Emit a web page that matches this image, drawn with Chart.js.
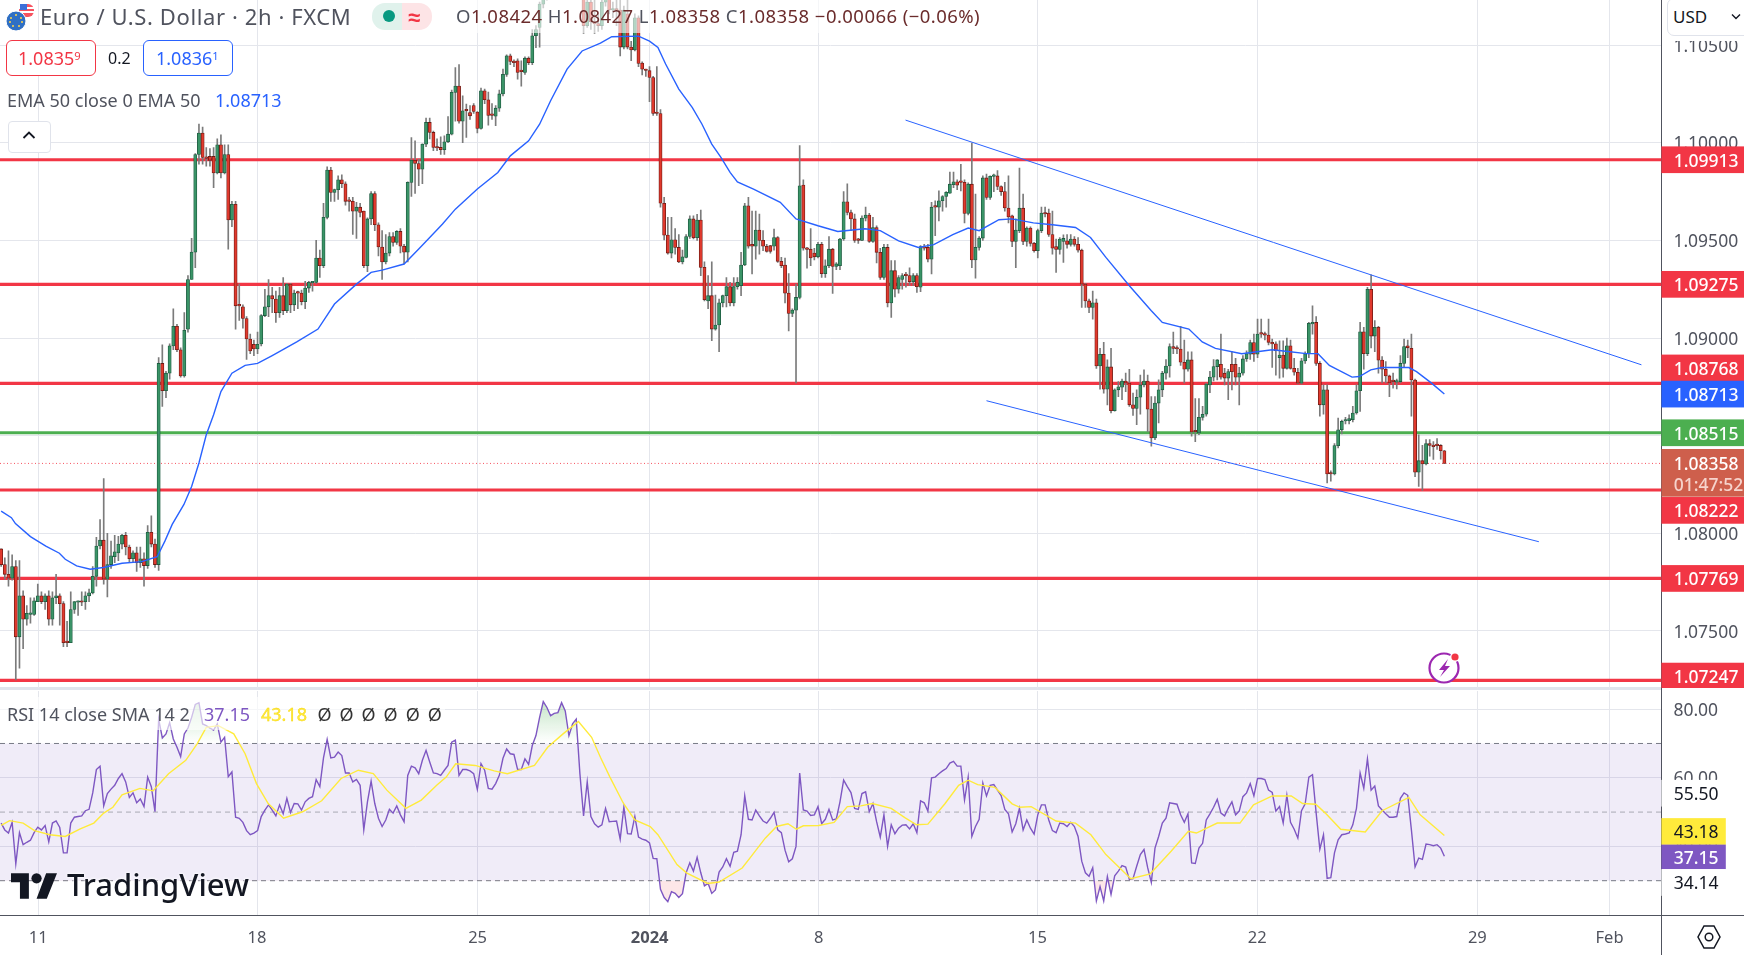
<!DOCTYPE html>
<html><head><meta charset="utf-8">
<script src="https://cdn.jsdelivr.net/npm/chart.js@4"></script>
<style>
html,body{margin:0;padding:0;background:#fff;overflow:hidden}
#stage{position:relative;width:1744px;height:955px;overflow:hidden;background:#fff;font-family:"Noto Sans",sans-serif;color:#50535e}
canvas{position:absolute;left:0}
.a{position:absolute;white-space:nowrap;line-height:1}
sup{font-size:.62em;vertical-align:baseline;position:relative;top:-.42em}
</style></head><body><div id="stage">
<div class="a" style="left:1661px;top:0;width:1px;height:955px;background:#50535e"></div>
<div class="a" style="left:0;top:915px;width:1744px;height:1px;background:#50535e"></div>
<div class="a" style="left:0;top:687px;width:1661px;height:3px;background:#e0e3eb"></div>
<canvas id="priceCanvas" width="1744" height="688" style="top:0"></canvas>
<canvas id="rsiCanvas" width="1744" height="267" style="top:688px"></canvas>

<div class="a" style="left:450px;top:0;width:535px;height:33px;background:rgba(255,255,255,.62)"></div>
<div class="a" style="left:0;top:697px;width:445px;height:33px;background:rgba(255,255,255,.62)"></div>

<svg class="a" style="left:5px;top:2px" width="32" height="30" viewBox="0 0 32 30">
<rect x="14" y="2" width="15" height="13" rx="6" fill="#f7525f"/><rect x="14" y="5" width="15" height="2" fill="#fff"/><rect x="14" y="9" width="15" height="2" fill="#fff"/><rect x="15" y="2" width="7" height="6" fill="#3d6fd8"/>
<circle cx="11" cy="19" r="10" fill="#2f6fc4" stroke="#fff" stroke-width="1"/><g fill="#ffd54a"><circle cx="11" cy="13" r="1"/><circle cx="16" cy="16" r="1"/><circle cx="17" cy="20" r="1"/><circle cx="14" cy="24" r="1"/><circle cx="8" cy="24" r="1"/><circle cx="5" cy="20" r="1"/><circle cx="6" cy="16" r="1"/></g></svg>
<div class="a" style="left:40px;top:5px;font-size:22px;letter-spacing:.6px;color:#50535e">Euro / U.S. Dollar · 2h · FXCM</div>
<div class="a" style="left:372px;top:3px;width:30px;height:27px;background:#e0f2ec;border-radius:13px 0 0 13px"></div>
<div class="a" style="left:402px;top:3px;width:30px;height:27px;background:#fde4e6;border-radius:0 13px 13px 0"></div>
<div class="a" style="left:383px;top:10px;width:12px;height:12px;border-radius:6px;background:#089981"></div>
<div class="a" style="left:408px;top:5px;font-size:22px;font-weight:700;color:#f23645">≈</div>
<div class="a" id="ohlc" style="left:456px;top:7px;font-size:18.5px;letter-spacing:.45px;color:#50535e">O<span style="color:#6b2c2c">1.08424</span> H<span style="color:#6b2c2c">1.08427</span> L<span style="color:#6b2c2c">1.08358</span> C<span style="color:#6b2c2c">1.08358</span> <span style="color:#6b2c2c">−0.00066 (−0.06%)</span></div>
<div class="a" style="left:6px;top:40px;width:88px;height:34px;border:1px solid #f23645;border-radius:6px;background:#fff"></div>
<div class="a" style="left:18px;top:49px;font-size:18px;color:#f23645">1.0835<sup>9</sup></div>
<div class="a" style="left:108px;top:50px;font-size:16px;color:#131722">0.2</div>
<div class="a" style="left:143px;top:40px;width:88px;height:34px;border:1px solid #2962ff;border-radius:6px;background:#fff"></div>
<div class="a" style="left:156px;top:49px;font-size:18px;color:#2962ff">1.0836<sup>1</sup></div>
<div class="a" style="left:7px;top:91px;font-size:18px;color:#50535e">EMA 50 close 0 EMA 50</div>
<div class="a" style="left:215px;top:91px;font-size:18px;color:#2962ff">1.08713</div>
<div class="a" style="left:8px;top:121px;width:41px;height:30px;border:1px solid #e0e3eb;border-radius:4px;background:#fff"></div>
<svg class="a" style="left:22px;top:130px" width="14" height="10"><path d="M1.5 8 L7 2.5 L12.5 8" fill="none" stroke="#131722" stroke-width="1.8"/></svg>
<svg class="a" style="left:1427px;top:651px" width="36" height="34" viewBox="0 0 36 34"><circle cx="17" cy="17" r="14.5" fill="#fff" stroke="#9c27b0" stroke-width="2.2"/><path d="M21 8 L12 19 L17 19 L13 26 L23 15 L18 15 Z" fill="#9c27b0"/><circle cx="28" cy="6" r="5" fill="#fff"/><circle cx="28" cy="6" r="3.6" fill="#f23645"/></svg>

<div class="a" style="left:7px;top:705px;font-size:18px;color:#50535e">RSI 14 close SMA 14 2</div>
<div class="a" style="left:204px;top:705px;font-size:18px;color:#7e57c2">37.15</div>
<div class="a" style="left:261px;top:705px;font-size:18px;color:#ffeb3b;-webkit-text-stroke:.3px #f3d000">43.18</div>
<div class="a" style="left:317.5px;top:705px;font-size:18px;color:#333;word-spacing:3.3px">Ø Ø Ø Ø Ø Ø</div>

<svg class="a" style="left:11px;top:873px" width="46" height="26" viewBox="0 0 36 20"><path d="M14 20H7V7H0V0h14v20zM28 20h-8L27.5 0h8.5L28 20z" fill="#131722"/><circle cx="20" cy="4" r="4" fill="#131722"/></svg>
<div class="a" style="left:67px;top:869px;font-size:31px;font-weight:500;color:#131722;text-shadow:0 0 3px #fff,0 0 3px #fff">TradingView</div>

<div class="a" style="left:1662px;top:0;width:82px;height:41px;background:#fff"></div>
<div class="a" style="left:1667px;top:-2px;width:90px;height:36px;border:1px solid #e0e3eb;border-radius:7px;background:#fff"></div>
<div class="a" style="left:1673px;top:8px;font-size:17px;color:#131722">USD</div>
<svg class="a" style="left:1731px;top:13px" width="10" height="8"><path d="M1 1.5 L5 5.5 L9 1.5" fill="none" stroke="#131722" stroke-width="1.4"/></svg>
<svg class="a" style="left:1697px;top:923px" width="24" height="28" viewBox="0 0 24 28"><path d="M7 3 H17 L23 14 L17 25 H7 L1 14 Z" fill="none" stroke="#131722" stroke-width="1.5"/><circle cx="12" cy="14" r="3.8" fill="none" stroke="#131722" stroke-width="1.5"/></svg>
</div>
<script>
// Candle values, in pips above 1.0000, one entry per 2h bar.
const opens=[
792,784,779,777,783,747,768,756,758.5,758.5,765,768,765,768,756,767,768,764,744.5,744,
761,764.7,765,765,768,769.5,778,793.5,796.5,776.5,784,788,790,794.5,799,793,787,790,785,787,
783.5,800.5,794.5,784,887,873,882,896,906,894,880.6,904.5,930,944,994,1005,992.5,993,993,984.5,
999,984.5,994,960.5,968.5,917,916,910,899.5,896.8,894.4,897,911.5,916,921.7,920,913,921.7,914,927.6,
917,923.3,923,918.6,925.6,928.3,928.5,941,937,961.8,986,974.6,976,981,979,970.3,970,965,967,965,
937,961,974,958,946.6,939,943.5,952,949,954.6,947,944,979.7,991,989.4,986.5,999.3,1010.4,1005.3,997.6,
997.6,996.4,1000.5,1004.4,1025.8,1029,1011,1016.7,1015.5,1019,1015.7,1007.3,1026.6,1022,1014.3,1013.6,1017.7,1025,1035,1044.5,
1041.6,1042,1036.6,1036,1043.3,1041,1054.8,1059,1071,1075,1080,1083,1088,1092,1096,1100,1105,1110,1112,1085,
1060,1072,1062,1061,1060,1072,1078,1068,1068.5,1068,1049,1066,1049,1047.5,1064,1040.8,1037.5,1036.9,1033.4,1015.3,
1015,969,952.7,943.5,950.3,946.4,939,941.3,952,961,951.4,960.4,936.2,919,921.7,904.6,906.7,918,921.7,926.3,
918,926.3,926.8,937.4,967.7,948,947,955.3,950,947,947.3,947,951.5,939.3,937.4,923,912.6,914.3,920.8,978.3,
946,945.5,943.5,941.6,948,933,937,945.5,936.7,937,950.7,969.8,964.3,961,950.2,950,961.4,963,949.5,956.6,
943.9,931,946.4,918,934.5,925,930,932.2,932,928.8,932,926,946.8,946.4,940.4,967.2,967,970.3,972.5,974.2,
978.5,980,979.9,979.7,963.8,978.8,940,946.4,951.2,982,972,982.8,983,977.6,975,966.6,962.6,949.5,955,966.5,
949.5,956.3,948.5,944.7,955,964,964,953,946.8,945.4,949.5,949.8,948,950.7,948,945,927.6,919,915.7,918,
885.7,891.7,873.8,885.2,862.8,873.5,874.8,878,877,865.8,864,869.7,876,878,863.6,848.8,866.7,873.5,882,885.7,
895.6,895,894.4,887.6,884,888.8,852.2,851.4,859.4,861,876,880,885.4,886.6,882,879.5,886.6,886.6,880,882,
889.3,891.7,897.7,891.7,902.2,902,901.5,897.8,897,890,891.3,884.5,896,884.5,882.5,876.9,888.3,892,907.2,908,
887,865.8,873.5,830.7,830.4,844.9,853,857.5,857.7,858.2,861.6,873,903.2,892,925,901,905.5,888.7,884,
880.6,877.9,877.4,877.7,887,896,894.7,878.5,831.3,837.2,835.5,845.9,845,845,845,842.3];
const closes=[
784,779,777,783,747,768,756,759,759,765.5,768,765,768,756,767,768,764,744,744,761,
765,765,764.7,768,769.5,778,793.5,796.5,776.5,784,788.5,790.5,794.5,799,793,787,790,785,787,783.5,
800.5,794.5,784,887,873,882,896,906,894,880.6,904,930,944,994,1005,992.5,992,991,984.5,999,
984.5,994,960.5,968.5,916.5,916.5,910,899.5,893.4,894.4,896.8,911.5,916,921.7,920,913,921.7,914,927.6,917,
923,923,918.6,925.6,928.5,928.5,941,937,961.8,986,974.6,976,981,979,970,970,965,967,964.3,937,
961,974,958,946.6,939,943.5,952,949,954.6,947,944,979.7,991,989.4,986.5,999.3,1010.4,1005.3,997.6,997.3,
996.4,1000.5,1004.4,1025.8,1029,1011,1016.4,1016.4,1013.8,1016,1007.3,1026.6,1022,1014,1014,1017.7,1025,1035,1044.5,1041.6,
1041,1036,1036.4,1043.3,1041,1054.8,1058,1071,1075,1080,1083,1088,1092,1096,1100,1105,1110,1112,1085,1060,
1072,1062,1061,1060,1072,1078,1068,1068.5,1068,1049,1068,1049,1047.5,1064,1040.6,1037.7,1037,1033.4,1015,1015,
969,952.7,943.5,950.3,946.4,939,941.6,952,961,951.4,960.4,936.2,919.6,921.7,904.6,906.7,918,921.7,926.3,918,
926.3,928.5,937.4,967.7,947,947,955.3,950,947,944.4,944.4,951.5,939.3,937,923,912.6,914.3,920.8,978,946,
945.4,941,941.6,948,933,937,945.5,936.7,938,950.7,969.8,964.3,961,950,950,961.4,963,949.5,956.6,943.9,
931,946.4,918,934.5,925,931,932,932,928.8,932,926.3,946.8,946,940.4,967,967,970.3,972.5,974.6,978.8,
980,978.3,979.7,963.8,978.8,940,946.4,951.2,982,972,982.8,983,977.6,975,966.6,962,949.5,955.3,966.5,949.5,
956.3,948.5,944.7,955,964,963.5,953,946,945.4,950.7,951,948,950.7,948,945,927.6,919,915.7,918,885.7,
891.7,873.8,885.2,862.8,873.5,875,878,877,865.8,864,869.7,876,878,863.6,848.8,866.7,873.5,882,885.7,895.6,
894.7,894.4,887.6,884,888.8,851.9,852,859.4,861,876.4,880,885.4,888.8,880,879.5,882.8,882.8,880,882,889.3,
892,897.7,891.7,902,902,901.5,897.8,897,893.5,891.3,884.5,896,884.5,882.5,876.9,888.3,892,907.5,908,887,
865.8,873.5,830.4,830.4,844.9,853,857.3,857.7,858.7,861.6,873,903.2,892,925,901,905.5,888.7,884,880.6,
877,877.7,878,887,895.6,895,878.5,831.3,837.2,835.5,845.9,845,844.4,844.9,842.3,835.8];
const highs=[
792,787.5,791,789,786,786,770.5,763,767,767,774,770,769,770.5,770,779,769,765,755,770,
765,765.5,770,770,771.5,783,798,807,828,800,796,799,798.5,799.5,800.5,794,791,793,793,790,
804,809,797,890,896.5,883,897,915,907,895,913,932,951,994.5,1009.5,1008,997.5,997,997.5,1002,
1004,999,999,970,970,927.6,917,911,902,899,903,912,925,930,926,924,926,931,928,928,
924.5,924,924.5,929,929,929,950,945,969,987.7,987.4,976.3,983,983.6,980,972,972,969.5,969,965,
961.5,975,975,959,955,953,954,954,955,956,948,980,1002.7,1001,991.6,999.5,1012.6,1012.6,1006,1002,
1003,1003.5,1013.4,1027,1038.5,1040,1024,1019.8,1019,1020,1016,1028,1027.5,1026,1020,1019,1027,1037.7,1045,1045.4,
1042.5,1043,1042,1044,1044,1058,1060,1072,1078,1082,1086,1090,1095,1099,1103,1108,1114,1115,1114,1088,
1074,1076,1075,1066,1076,1082,1080,1072,1074,1075,1070,1075,1052,1066,1065,1041.5,1037.7,1039,1034,1039,
1017,972,961.8,961.8,956,953,945,953,962.6,962.6,963.4,965.5,939,932,939,922,920,922,931,928.5,
931,931,943.9,969,972,965,965,963.5,955,948,947.5,955.8,952,941.3,941,933,915,927.6,998.5,981,
946.5,956,946,949,949,940,952,946,938.7,951,975,979,965.5,963.5,951,962.6,967,963.8,961.8,957.5,
946,948,948,939.7,939.7,932,933,933.6,936,933,933,947.3,948,948,969.5,970.3,975.4,973,975,985,
985,981,989,981,979.5,999.8,973.7,952,983,984,983,984,985.7,978,979.7,983,963,961,987,973.7,
957,957,949,955.8,967,967,966,965,950.7,951.5,952.9,953,953,952,951.5,945.6,928,920,924,920,
894.7,897.8,888.8,894.7,874,877.7,879,882,884,871.8,873.5,881,883.7,881,870,870,878.6,883,889,897,
903,896,906,899,893,893,869,869,865,877,883,889,889,902,884.5,884,893,889.6,885,891,
893.5,899,902,909.7,909.7,903,909.7,899.5,898,898.6,898.6,900,899,889.6,884.5,889.6,893,908,916.5,911,
888,876,876,832,846,859,858,859.4,860.7,865,876,908,905.5,926,932.4,908.9,906,890.5,888,
881,882,879,891,899.5,899,902,879,850.5,845,848,848,847,848.5,845.5,842.5];
const lows=[
783,776.5,773,776,725,731,741,753,754,758,765,764,761,753,753,764,753,742,742,744,
759,758,763,761,765,769,773,792,774,767.5,782,785,786,792,789,785,785,780.5,782.5,773,
782,793,782.5,781,865,869.5,879,894,893,880,880,903,930,936,989,989,988,988,977,984,
982,984,945.5,957,904.6,909,905,889,892,891,892,896,911,911,913,908,910.5,912,913,913,
914,915,917,915,923.4,924,928,931,936,961,970,970,971,977,968,965,953,951,962,936,
934,958,955,942,930,938,942,947,948,943.6,938,939,972.5,974,978,979,998,1002,996,996,
994,994,1000,1004,1011,1010,1000,1002.7,1012,1015,1005,1007,1020,1009,1012,1008.7,1016,1024,1034,1040,
1039,1032.6,1029,1035,1040,1040,1048.7,1049,1069,1073,1078,1081,1086,1090,1094,1097,1103,1106,1083,1056,
1059,1058,1056,1057,1058,1070,1066,1064,1060,1044.5,1048,1048,1042,1047,1039,1034.7,1034,1021,1014,1014,
967,950.3,943,941,943,938.6,938,941,951,950.7,950,932,919,915,898.6,904,893,916,916,916.5,
916.5,925,921.7,937,946,932.8,940.4,943,944.7,944,943.5,945,938.7,936,918,903.7,911,877,920,945,
935.8,937,940,941,931,931,936,922.9,935,935,950,963,955,949,948.5,949.8,960,949,949,938.5,
930,930,916,910.6,921,923,925,926,927,927,923.4,923.7,945,939,932.8,952.4,960,965,967,974,
977,976,975.4,959,963,936,930.7,945,950,971,971,975,976,973,965,959,946.8,936,954,947.8,
947,947,944,941,954,962,952,943,933.6,943,938.7,946,947,947,944,915.7,915.7,913,909.7,884.5,
873.8,871.8,865.8,861.6,862.5,870,868.4,872.6,865,860.4,855.6,861,875,852,844.6,848,856.5,870,879,880,
892,892,886,877,883,849.7,847,850.5,858,860,872,878,878.6,879,876,868.4,873.5,876,865.8,881,
888,889,888,890,900.3,899,896.5,885,881,879.4,880,884,884,881,876.5,876.4,887,890,902,886,
860,861,825.8,826.7,829.9,843.7,850.9,856,856,857,861,862.4,884,891,895,893,882,877,877,
870,874.3,874,877,885,890,860,829,824,822,835,839.5,837.8,843,838,835.8];
// RSI(14), one entry per bar.
const rsiValues=[
46.8,44.8,43.9,47,34.9,44,40.5,41.2,41.8,44,45.6,44.8,46.1,41.3,46.8,47.4,45.5,38.1,38.1,46.8,
48.5,48.7,48.9,50.4,50.8,55.6,62.4,63.4,51.8,55.4,56.7,57.8,59.8,61.2,58.8,54.3,55.6,52.7,53.8,51.6,
60.2,57.4,50.1,77.1,71.6,72.8,76.1,71.3,68.9,66.2,72.8,74.5,77.6,81.4,81.9,75.7,75.2,74.5,73.9,75.7,
70.4,71.8,60.3,61.7,48.5,48.2,47,44.6,43.4,43.9,44.6,48.7,50.6,52.1,50.6,48.9,52.1,49.5,54,49.9,
52.5,52.4,50.6,53,54,54.5,59.5,57.4,65.8,71.2,65.8,66,67.5,66.5,61.4,61.4,58.8,59.5,57.8,44.8,
53,59,52.5,48.2,45.8,47.7,50.8,49.7,51.8,49.2,47.2,60.7,63.4,62.9,61.2,65.1,68,64.6,61.4,61.2,
60.7,62.2,63.6,70.4,71,60.7,62.4,62.4,62,61.2,56.6,64.1,62.2,56.9,56.7,58.3,60.7,65.7,68.4,67,
66.8,62.4,62.4,65.5,63.9,69.4,72.3,77.6,82.2,80.5,78.1,78.8,79,81.9,79.5,72.3,75.7,77.1,61.2,48.9,
58.8,48.7,46.6,45.6,46.3,51.1,47.2,47.3,47.4,42.1,51.4,43.7,43.6,48.7,42.7,42.1,41.8,41,36.5,36.4,
27.5,25.1,23.9,26.8,26.3,25.1,26.2,32.3,35.2,32.8,36.8,32.3,28.5,29.2,26.3,27.3,32.5,34,36.4,34.2,
38.3,38.6,43.4,54.8,47.9,47.7,50.6,48.9,47.4,46.8,48.2,49.9,44.8,44,38.9,35.5,36.4,40,61.4,50.6,
50.3,49,49.2,51.6,46.6,47.9,50.8,47.7,48,53,59.3,57.4,55.7,51.1,50.8,55.4,55.9,50.1,52.5,47.2,
42.7,49.2,40,46.3,43.7,45.3,46.2,46.3,45.1,46.6,44,53.3,52.7,50.3,60,60.2,61.2,62,62.7,64.3,
64.8,63.4,63.4,53.5,60.2,42.9,45.8,47.9,58.5,54.7,57.8,58,56.4,54.8,50.8,49.5,44.2,46.6,51.1,44.8,
47.7,45.3,43.6,49.2,52.1,52.1,47.7,44.6,44,46.8,46.6,45.8,47,45.8,42.9,35.7,32.3,31.3,33.8,24.1,
28.3,24.1,31.2,26,31.4,32.8,34.4,34,30.4,30.6,34.2,37.6,39.1,33.8,29.5,39.5,42.9,46.8,48.2,52.7,
52.5,52.3,49.2,47,49.5,35.2,35,39.5,40.9,47.7,49.5,51.4,53.7,49.7,48.9,51.1,53,49.2,50.3,54.5,
55.6,58.3,54.7,59.8,59.8,59.5,56.4,55.7,50.3,51.6,46.8,54.9,47,45,42.4,50.4,52.4,60.2,60.9,49.7,
39.2,43.4,30.7,30.9,38.1,41.9,43.4,43.6,43.9,46.3,51.1,61.4,56.9,65.5,56.4,57.6,51.8,50.6,49.5,
48.5,48.5,48.7,54,55.6,54.9,44.8,34,36.6,36.2,40.7,40.5,40.2,40.5,39.5,37.15];
// EMA 50: bar position and price.
const emaBars=[0,2.8,3.9,8,12.2,15.9,17.5,20.6,24.3,27.9,33,38.4,42.6,44.7,46.7,49.9,52,54,56,58,60,63,66.6,70,74,80.7,86.5,91,97,101,104,110,114,117,120.5,124,130,135.6,139,144,147,150,154.5,158.6,163.6,166.7,174,177,179.3,181.4,185,188.7,191.3,194,196.5,199,201,205.4,212.7,217,223,228.4,235.8,240,245,250.4,254.6,259.8,264,267,272.4,276,281.8,287,293.3,297.4,301.6,308,314,317,324.25,327.9,331.5,338.7,347,350.1,356.3,359.5,362.6,368.8,370.8,373.9,377,384.3,386.4,390.5,394];
const emaPips=[811.4,808,805,798.3,793.5,789.8,786.7,783.3,781.6,782.5,784.7,785.5,788,796,804.6,814.8,824,836,850.5,860.7,872.6,882,886,887,891,898,904.6,917.4,927.6,933.6,934.8,937.9,945.6,951.5,958.4,966,976.3,984.8,993.3,1001,1009.5,1021.5,1037.7,1047,1051,1054.3,1054.6,1052,1048.8,1040.3,1027.5,1018,1009.6,999.3,992.5,984.8,980,976.3,969.5,961,957.5,954.6,956,955,949.8,946.4,947.8,953,956.3,955,960.6,961,959,958,956.6,951.5,941.3,926.8,914,908,904.6,898,894.7,892,894,893.4,892,892,886,880,880.3,883.7,884.9,884.9,882.8,876.9,871.3];
// RSI-based SMA.
const smaBars=[0,2.3,6,9.1,13.3,17.5,21.6,25.3,28,30.5,33,37.9,41.5,45.7,50.4,53.5,56,59.3,63.5,66.6,69.7,72.9,77.1,82.3,87.5,92.8,97.5,101.6,105.3,110.5,114.7,118.9,121.5,124.1,129.4,134.6,138.2,145.6,149.2,153.4,157.6,161.2,163.6,166.2,169.9,173,177.2,179.3,184.5,187.1,192.9,196,202.3,204.4,208.6,211.7,214.8,217.1,219,223.2,227.4,231,234.7,237.8,243,246.7,249.9,253,257.7,261.4,264,266.6,271.3,276,278.1,281.2,288,293.3,297.5,301.6,308.4,313.7,319.4,324.1,326.3,332,338.2,341.9,347,352.2,355.3,358.9,361.5,365.7,372.4,377,384.3,387.4,394];
const smaValues=[46.1,47.5,46.8,44.6,43.4,42.9,45.1,46.8,49.7,51.4,55,56.9,56.2,61.2,65.1,69.9,74.7,75.2,72.8,67,58.3,52.5,48.2,50.1,53.3,59.8,62.2,61.2,56.4,51.1,53.5,57.8,60.2,64.1,63.6,62,61.2,63.6,68.9,72.8,76.4,71.8,66,60.2,52.5,47.7,45.8,43.4,34.7,32.3,29.2,29.6,33.7,36.6,42.4,45.8,46.6,45,46,46.1,47,51.6,51.8,52.5,51.1,48.4,46.3,46.5,52.5,57.8,59.3,58,57.2,52.4,51.4,51.6,47.4,46.8,43.4,37.6,30.6,32,38.6,44.4,43.9,46.8,46.8,52.1,54.7,54.7,52.5,52.3,49.7,45,44.2,50.4,54.3,49.2,43.18];
// Levels and drawn channel.
const redLevels=[1.09913,1.09275,1.08768,1.08222,1.07769,1.07247];
const greenLevel=1.08515, lastPrice=1.08358, emaLast=1.08713;
const upperBars=[246.9,447.8], upperPrices=[1.10116,1.08863];
const lowerBars=[269,419.8], lowerPrices=[1.08679,1.07957];
const priceTicks=[1.105,1.10,1.095,1.09,1.085,1.08,1.075];
const rsiTicks=[80,60,40];
const rsiLevels=[70,50,30];
const timeTickBars=[10.14,69.85,130.07,177.05,223.2,282.9,342.9,403,439.1];
const timeTickLabels=['11','18','25','2024','8','15','22','29','Feb'];

const FONT='"Noto Sans", sans-serif', TICK='#50535e', GRID='#e4e6ec';
const XMIN=-0.314, XMAX=453.25;
const toPrice=p=>1+p/10000;
const bars=opens.map((_,i)=>i);
Chart.defaults.font.family=FONT;
Chart.defaults.animation=false;

const noPad=s=>{s.paddingTop=0;s.paddingBottom=0;s.paddingLeft=0;s.paddingRight=0;};
function xAxis(showLabels){
  return {type:'linear',min:XMIN,max:XMAX,offset:false,
    grid:{color:GRID,drawTicks:false,offset:false},border:{display:false},
    ticks:{display:showLabels,autoSkip:false,maxRotation:0,minRotation:0,padding:13,color:TICK,
      font:c=>({size:16.5,weight:c.tick&&c.tick.value===177.05?'700':'400'}),
      callback:v=>timeTickLabels[timeTickBars.indexOf(v)]||''},
    afterBuildTicks:s=>{s.ticks=timeTickBars.map(v=>({value:v}));},
    afterFit:s=>{noPad(s);s.height=showLabels?40:0;}};
}
function yAxis(min,max,ticks,dec){
  return {position:'right',min,max,
    grid:{color:GRID,drawTicks:false},border:{display:false},
    ticks:{autoSkip:false,padding:12,color:TICK,font:{size:17.5},labelOffset:1.6,callback:v=>Number(v).toFixed(dec)},
    afterBuildTicks:s=>{s.ticks=ticks.map(v=>({value:v}));},
    afterFit:s=>{noPad(s);s.width=82.6;}};
}
const hline=(v,color,w,extra)=>Object.assign({type:'line',data:[{x:XMIN,y:v},{x:XMAX,y:v}],borderColor:color,borderWidth:w,pointRadius:0,order:3},extra||{});

function tagPlugin(items,x,w){
  return {id:'tags',afterDraw(chart){
    const c=chart.ctx,s=chart.scales.y,top=chart.canvas===document.getElementById('rsiCanvas')?688:0;
    c.save();c.textBaseline='middle';c.textAlign='left';
    items.forEach(t=>{
      const cy=s.getPixelForValue(t.v)+(t.shift||0);
      const h=t.h||26.7, ty=t.top!==undefined?t.top-top:cy-h/2;
      c.fillStyle=t.bg;c.fillRect(x,ty,w,h);
      c.fillStyle=t.fg;c.font=(t.weight||'500')+' 17.5px '+FONT;
      c.fillText(t.text,x+12.4,cy+1.8);
      if(t.sub){c.fillStyle=t.subFg;c.font='500 17.5px '+FONT;c.fillText(t.sub,x+12.4,cy+22.4);}
    });
    c.restore();
  }};
}
const RED='#f23645';
const priceTags=[
 {v:1.09913,text:'1.09913',bg:RED,fg:'#fff'},
 {v:1.09275,text:'1.09275',bg:RED,fg:'#fff'},
 {v:1.08768,text:'1.08768',bg:RED,fg:'#fff',shift:-15.4},
 {v:1.08713,text:'1.08713',bg:'#2962ff',fg:'#fff'},
 {v:1.08515,text:'1.08515',bg:'#4caf50',fg:'#fff'},
 {v:1.08358,text:'1.08358',bg:'#ce5f4c',fg:'#fff',top:449,h:47.7,sub:'01:47:52',subFg:'#f6d3cc'},
 {v:1.08222,text:'1.08222',bg:RED,fg:'#fff',shift:20.4},
 {v:1.07769,text:'1.07769',bg:RED,fg:'#fff'},
 {v:1.07247,text:'1.07247',bg:RED,fg:'#fff',shift:-4.3}
];
const rsiTags=[
 {v:55.5,text:'55.50',bg:'#fff',fg:'#131722',weight:'400'},
 {v:43.18,text:'43.18',bg:'#ffeb3b',fg:'#131722',weight:'400',shift:-4,h:26.7},
 {v:37.15,text:'37.15',bg:'#7e57c2',fg:'#fff',shift:0.7,h:24.5},
 {v:34.14,text:'34.14',bg:'#fff',fg:'#131722',weight:'400',shift:16}
];

new Chart(document.getElementById('priceCanvas'),{
  data:{datasets:[
    ...redLevels.map(v=>hline(v,RED,3.2)),
    hline(greenLevel,'#4caf50',3.2),
    hline(lastPrice,'#f7525f',1,{borderDash:[1,2.5]}),
    {type:'bar',grouped:false,data:bars.map(i=>({x:i,y:[toPrice(lows[i]),toPrice(highs[i])]})),backgroundColor:'#7b7b7b',barThickness:1,order:2},
    {type:'bar',grouped:false,data:bars.map(i=>({x:i,y:[toPrice(Math.min(opens[i],closes[i])),toPrice(Math.max(opens[i],closes[i]))]})),
      backgroundColor:bars.map(i=>closes[i]>=opens[i]?'#3a9467':'#e0392d'),
      borderColor:bars.map(i=>closes[i]>=opens[i]?'#1c5a3f':'#6e1a14'),
      borderWidth:0.8,borderSkipped:false,barThickness:3.2,minBarLength:1.5,order:1},
    {type:'line',data:emaBars.map((b,i)=>({x:b,y:toPrice(emaPips[i])})),borderColor:'#2962ff',borderWidth:1.4,pointRadius:0,tension:0,order:0},
    {type:'line',data:upperBars.map((b,i)=>({x:b,y:upperPrices[i]})),borderColor:'#2962ff',borderWidth:1,pointRadius:0,order:0},
    {type:'line',data:lowerBars.map((b,i)=>({x:b,y:lowerPrices[i]})),borderColor:'#2962ff',borderWidth:1,pointRadius:0,order:0}
  ]},
  options:{responsive:false,maintainAspectRatio:false,animation:false,
    layout:{padding:0},
    plugins:{legend:{display:false},tooltip:{enabled:false}},
    scales:{x:xAxis(false),y:yAxis(1.07208,1.10731,priceTicks,5)}},
  plugins:[tagPlugin(priceTags,1661.4,82.6)]
});

const rc=document.getElementById('rsiCanvas').getContext('2d');
const greenGrad=rc.createLinearGradient(0,12,0,55);
greenGrad.addColorStop(0,'rgba(76,175,80,.32)');greenGrad.addColorStop(1,'rgba(76,175,80,0)');
const rsiPts=bars.map(i=>({x:i,y:rsiValues[i]}));
new Chart(rc,{
  data:{datasets:[
    {type:'line',data:[{x:XMIN,y:70},{x:XMAX,y:70}],borderWidth:0,pointRadius:0,fill:{value:30},backgroundColor:'rgba(126,87,194,.115)',order:6},
    ...rsiLevels.map(v=>hline(v,v===50?'rgba(120,123,134,.6)':'#787b86',1,{borderDash:[5,4],order:5})),
    {type:'line',data:rsiPts,borderWidth:0,pointRadius:0,fill:{target:{value:70},above:greenGrad,below:'rgba(0,0,0,0)'},order:4},
    {type:'line',data:rsiPts,borderWidth:0,pointRadius:0,fill:{target:{value:30},above:'rgba(0,0,0,0)',below:'rgba(242,54,69,.12)'},order:4},
    {type:'line',data:rsiPts,borderColor:'#7e57c2',borderWidth:1.4,pointRadius:0,tension:0,order:1},
    {type:'line',data:smaBars.map((b,i)=>({x:b,y:smaValues[i]})),borderColor:'#ffeb3b',borderWidth:1.4,pointRadius:0,tension:0,order:0}
  ]},
  options:{responsive:false,maintainAspectRatio:false,animation:false,
    layout:{padding:{top:3}},
    plugins:{legend:{display:false},tooltip:{enabled:false},filler:{propagate:false}},
    scales:{x:xAxis(true),y:yAxis(20.0,85.3,rsiTicks,2)}},
  plugins:[tagPlugin(rsiTags,1661.4,64.4)]
});
</script>
</body></html>
